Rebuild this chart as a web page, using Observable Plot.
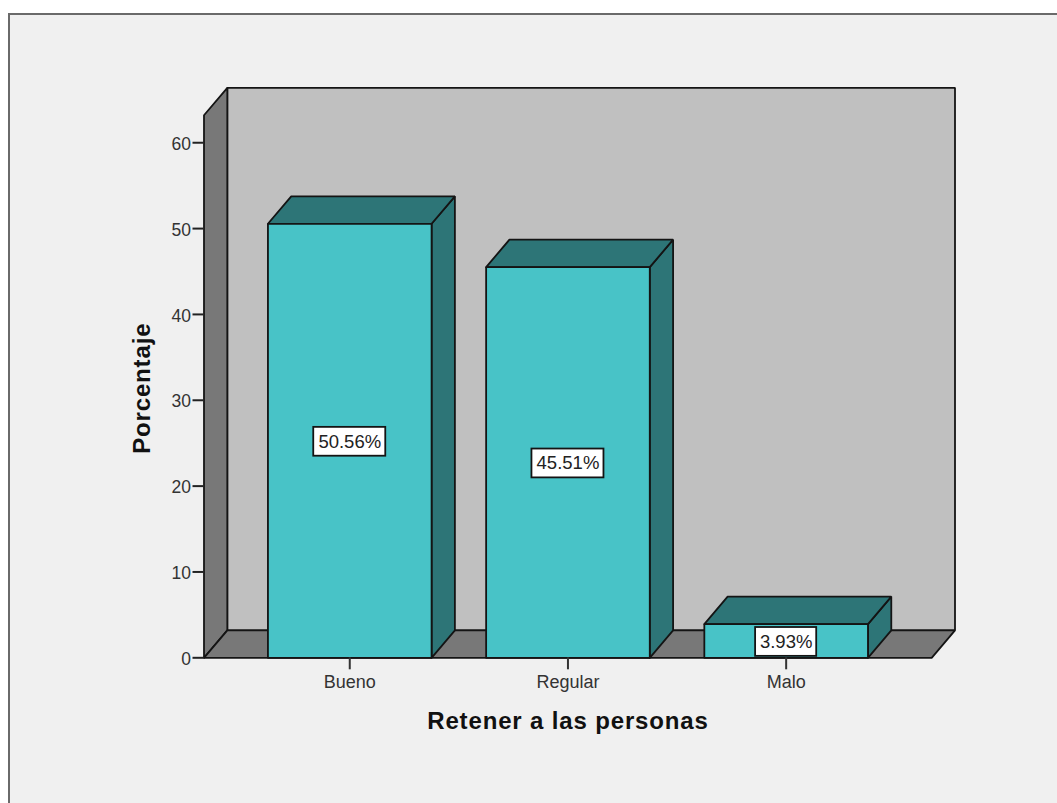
<!DOCTYPE html>
<html>
<head>
<meta charset="utf-8">
<script src="https://cdn.jsdelivr.net/npm/d3@7"></script>
<script src="https://cdn.jsdelivr.net/npm/@observablehq/plot@0.6"></script>
<style>
  html, body { margin: 0; padding: 0; background: #fff; overflow: hidden; }
  #panel {
    position: absolute; left: 8px; top: 13px; width: 1060px; height: 800px;
    background: #f0f0f0; border-left: 2px solid #6a6a6a; border-top: 2px solid #6a6a6a;
  }
  #chart { position: absolute; left: 0; top: 0; }
  #chart svg { background: transparent; font-family: "Liberation Sans", Arial, sans-serif; }
  .spaced-title text { letter-spacing: 0.85px; }
</style>
</head>
<body>
<div id="panel"></div>
<div id="chart"></div>
<script>
const categories = ["Bueno", "Regular", "Malo"];
const percentages = [50.56, 45.51, 3.93];
const yTicks = [0, 10, 20, 30, 40, 50, 60];

// Pseudo-3D extrusion, expressed in scale units
const depthX = 0.1068;
const depthY = 3.2;
const halfBar = 0.375;
const xLeft = -0.668, xRight = 2.667, yTop = 63.2;

const ink = "#141414";
const barFront = "#48c3c7", barShade = "#2d7577";
const wallGray = "#787878", backGray = "#c0c0c0";

// One closed polygon through the line mark
const face = (pts, fill) => Plot.line([...pts, pts[0]], {
  x: d => d[0], y: d => d[1], fill, stroke: ink, strokeWidth: 1.8,
  strokeLinejoin: "miter", curve: "linear"
});

const shell = [
  face([[xLeft + depthX, depthY], [xRight + depthX, depthY], [xRight + depthX, yTop + depthY], [xLeft + depthX, yTop + depthY]], backGray),
  face([[xLeft, 0], [xLeft, yTop], [xLeft + depthX, yTop + depthY], [xLeft + depthX, depthY]], wallGray),
  face([[xLeft, 0], [xLeft + depthX, depthY], [xRight + depthX, depthY], [xRight, 0]], wallGray)
];

const bars = percentages.flatMap((v, i) => {
  const a = i - halfBar, b = i + halfBar;
  return [
    face([[b, 0], [b + depthX, depthY], [b + depthX, v + depthY], [b, v]], barShade),
    face([[a, v], [a + depthX, v + depthY], [b + depthX, v + depthY], [b, v]], barShade),
    face([[a, 0], [b, 0], [b, v], [a, v]], barFront)
  ];
});

const labelRows = percentages.map((v, i) => ({
  i, v, text: v.toFixed(2) + "%", halfWidth: v < 10 ? 0.14 : 0.165
}));
const boxHalfHeight = 1.68;

const chart = Plot.plot({
  width: 1057,
  height: 803,
  marginLeft: 203.5,
  marginRight: 102.5,
  marginTop: 87.3,
  marginBottom: 145.7,
  style: { background: "transparent", overflow: "visible" },
  x: { type: "linear", domain: [xLeft, xRight + depthX] },
  y: { type: "linear", domain: [0, yTop + depthY] },
  marks: [
    ...shell,
    ...bars,
    Plot.rect(labelRows, {
      x1: d => d.i - d.halfWidth, x2: d => d.i + d.halfWidth,
      y1: d => d.v / 2 - boxHalfHeight, y2: d => d.v / 2 + boxHalfHeight,
      dy: 1, fill: "#fff", stroke: ink, strokeWidth: 1.8
    }),
    Plot.text(labelRows, {
      x: "i", y: d => d.v / 2, text: "text", dy: 1,
      fontSize: 18.5, fill: "#222"
    }),
    // Tick lines and tick labels are separate so the labels can sit a little lower
    Plot.axisY({
      ticks: yTicks, tickSize: 11, text: null, label: null,
      stroke: "#222", strokeWidth: 2
    }),
    Plot.axisY({
      ticks: yTicks, tickSize: 0, tickPadding: 13, dy: 1.5, label: null,
      fontSize: 17.5, color: "#333"
    }),
    Plot.axisX({
      ticks: [0, 1, 2], tickFormat: i => categories[i], tickSize: 12, tickPadding: 5, label: null,
      fontSize: 18, stroke: "#333", color: "#333", strokeWidth: 2
    }),
    Plot.text(["Retener a las personas"], {
      x: [1], frameAnchor: "bottom", dy: 71, text: d => d, className: "spaced-title",
      fontSize: 24, fontWeight: "bold", fill: "#111"
    }),
    Plot.text(["Porcentaje"], {
      y: [31.4], frameAnchor: "left", dx: -62, rotate: -90, textAnchor: "middle", text: d => d,
      className: "spaced-title", fontSize: 24, fontWeight: "bold", fill: "#111"
    })
  ]
});
document.getElementById("chart").append(chart);
</script>
</body>
</html>
